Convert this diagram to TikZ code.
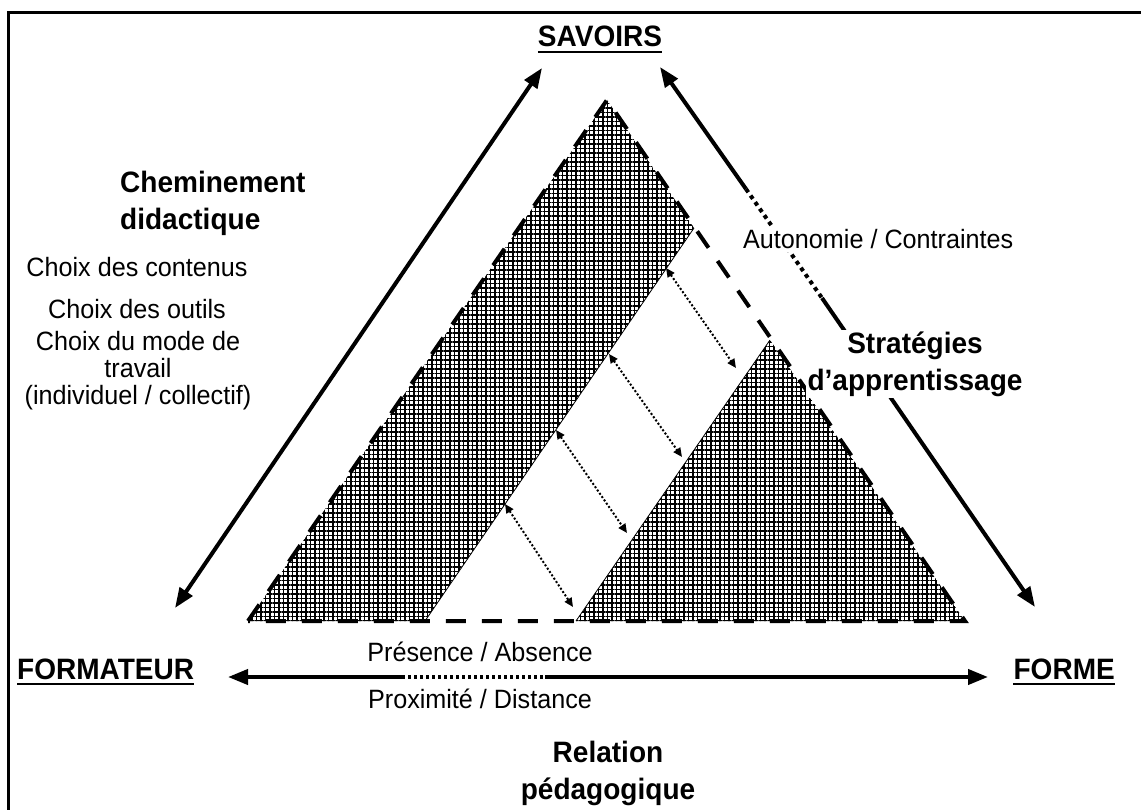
\documentclass[tikz,border=0pt]{standalone}
\usepackage{fontspec}
\setmainfont{Liberation Sans}
\newfontfamily\narrowsans[FakeStretch=0.95]{Liberation Sans}
\usetikzlibrary{arrows.meta,patterns.meta}
\begin{document}
\begin{tikzpicture}[x=1pt,y=-1pt,
  lbl/.style={inner sep=0pt,font=\narrowsans\fontsize{29.5pt}{37pt}\selectfont\bfseries},
  txt/.style={inner sep=0pt,font=\narrowsans\fontsize{26.5pt}{27pt}\selectfont,align=center},
  ulin/.style={line width=2pt},
  bigarrow/.style={line width=4pt,{Triangle[length=20pt,width=15pt]}-{Triangle[length=20pt,width=15pt]}},
  oneend/.style={line width=4pt,-{Triangle[length=20pt,width=15pt]}},
  thickdots/.style={line width=4pt,dash pattern=on 4pt off 4pt},
  smallarrow/.style={line width=2pt,dash pattern=on 2pt off 2pt,{Triangle[length=9pt,width=8pt]}-{Triangle[length=9pt,width=8pt]}},
  outline/.style={line width=4pt,dash pattern=on 20pt off 16pt},
  hatchh/.style={pattern={Lines[angle=0,distance=4.5pt,line width=1.5pt]}},
  hatchv/.style={pattern={Lines[angle=90,distance=4.5pt,line width=1.5pt]}}]
\useasboundingbox (0,0) rectangle (1141,810);
\clip (0,0) rectangle (1141,810);
% frame
\draw[line width=3pt] (8,830) -- (8,13) -- (1160,13);
% triangle geometry
\coordinate (A) at (607,100);
\coordinate (B) at (248,621);
\coordinate (C) at (965,621);
\coordinate (P1) at (425,621);
\coordinate (P2) at (694,228);
\coordinate (P3) at (770,340);
\coordinate (P4) at (576,621);
% hatched regions
\fill[hatchh] (B) -- (A) -- (P2) -- (P1) -- cycle;
\fill[hatchv] (B) -- (A) -- (P2) -- (P1) -- cycle;
\fill[hatchh] (P4) -- (P3) -- (C) -- cycle;
\fill[hatchv] (P4) -- (P3) -- (C) -- cycle;
\draw[line width=0.8pt] (P1) -- (P2);
\draw[line width=0.8pt] (P4) -- (P3);
% dashed outline
\draw[outline] (B) -- (A) -- (C) -- cycle;
% dotted double arrows in the strip
\coordinate (d1a) at (666,268); \coordinate (d1b) at (736,368);
\coordinate (d2a) at (609,354); \coordinate (d2b) at (682,457);
\coordinate (d3a) at (556,430); \coordinate (d3b) at (627,533);
\coordinate (d4a) at (505,504); \coordinate (d4b) at (573,607);
\draw[smallarrow] (d1a) -- (d1b);
\draw[smallarrow] (d2a) -- (d2b);
\draw[smallarrow] (d3a) -- (d3b);
\draw[smallarrow] (d4a) -- (d4b);
% left arrow
\coordinate (la) at (175,608);
\coordinate (lb) at (542,68);
\draw[bigarrow] (la) -- (lb);
% right arrow with dotted part
\coordinate (ra) at (660,67);
\coordinate (rb) at (746,189);
\coordinate (rc) at (822,298);
\coordinate (rd) at (1035,607);
\draw[oneend] (rb) -- (ra);
\draw[thickdots] (rb) -- (rc);
\draw[oneend] (rc) -- (rd);
% bottom arrow with dotted part
\coordinate (ba) at (228,677);
\coordinate (bb) at (402,677);
\coordinate (bc) at (545,677);
\coordinate (bd) at (988,677);
\draw[oneend] (bb) -- (ba);
\draw[thickdots,dash pattern=on 3pt off 3pt] (bb) -- (bc);
\draw[oneend] (bc) -- (bd);
% labels
\node[lbl,anchor=base] (sav) at (600,47) {SAVOIRS};
\draw[ulin] ([yshift=-5pt]sav.base west) -- ([yshift=-5pt]sav.base east);
\node[lbl,anchor=base west] (fmt) at (17,679) {FORMATEUR};
\draw[ulin] ([yshift=-5pt]fmt.base west) -- ([yshift=-5pt]fmt.base east);
\node[lbl,anchor=base east] (frm) at (1115,679) {FORME};
\draw[ulin] ([yshift=-5pt]frm.base west) -- ([yshift=-5pt]frm.base east);
\node[lbl,align=left,anchor=west] (chem) at (120,203) {Cheminement\\didactique};
\node[lbl,align=center,fill=white,inner sep=2pt] (strat) at (915,364) {Stratégies\\d’apprentissage};
\node[lbl,align=center] (rel) at (608,773) {Relation\\pédagogique};
\node[txt] (c1) at (137,267) {Choix des contenus};
\node[txt] (c2) at (137,309) {Choix des outils};
\node[txt] (c3) at (138,371) {Choix du mode de\\travail\\(individuel / collectif)};
\node[txt] (pres) at (480,652) {Présence / Absence};
\node[txt] (prox) at (480,699) {Proximité / Distance};
\node[txt,fill=white,inner sep=3pt,anchor=base west] (auto) at (740,249) {Autonomie / Contraintes};
\end{tikzpicture}
\end{document}
